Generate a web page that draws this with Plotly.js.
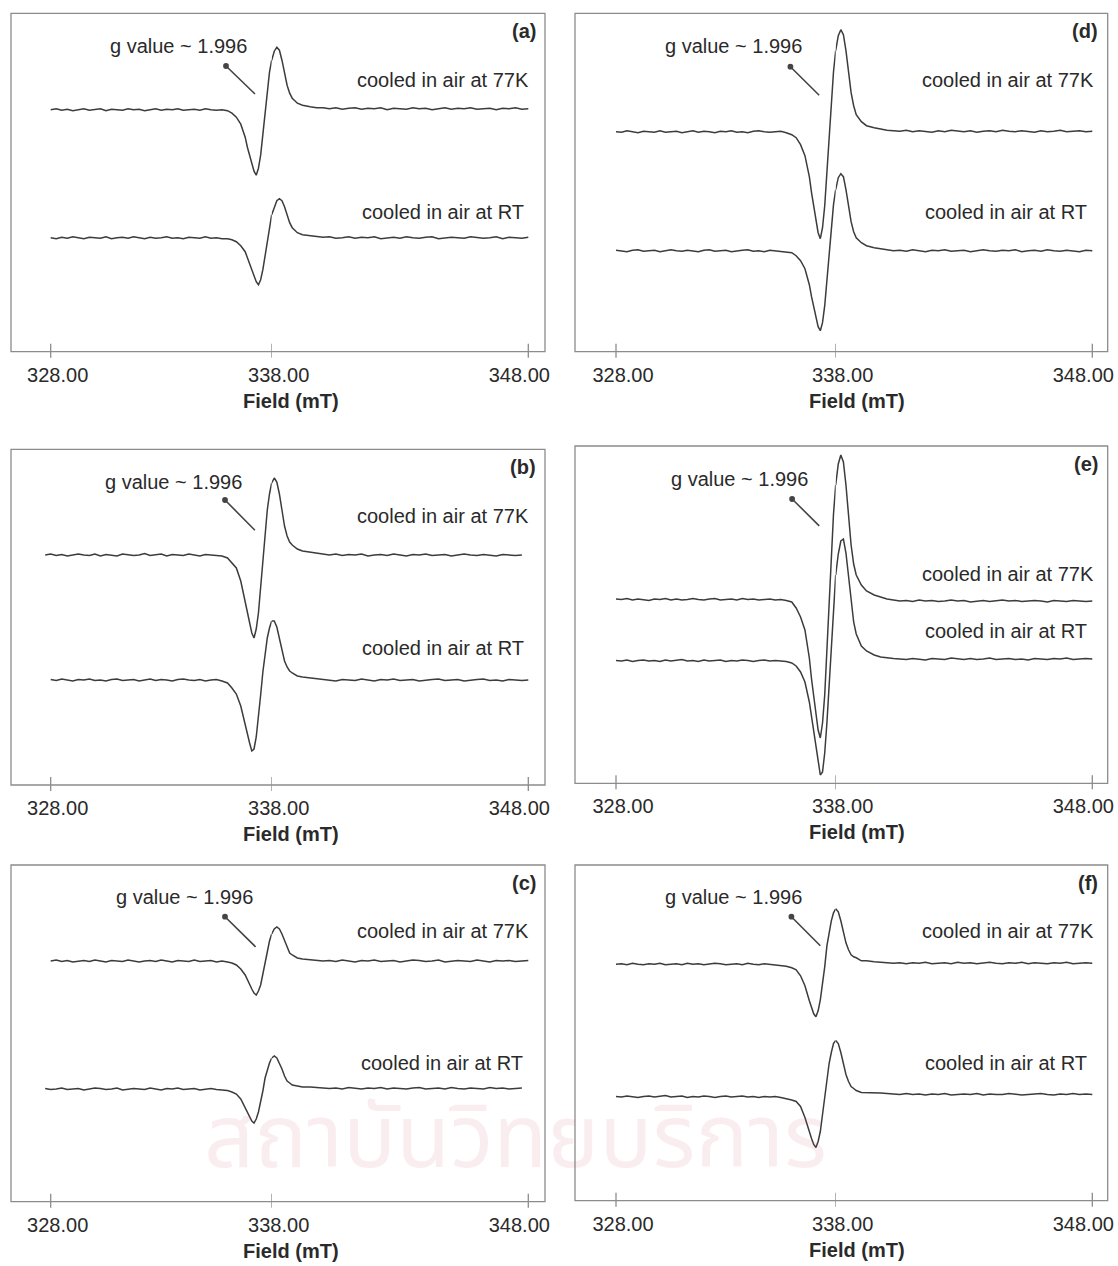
<!DOCTYPE html>
<html>
<head>
<meta charset="utf-8">
<script src="https://cdn.plot.ly/plotly-3.0.1.min.js"></script>
<style>
  html, body { margin: 0; padding: 0; background: #ffffff; }
  #chart { width: 1118px; height: 1266px; }
</style>
</head>
<body>
<div id="chart"></div>
<script>
// Magnetic field sampling points (mT): coarse on the baselines, fine across the resonance
const field = [
  327.75, 328, 328.25, 328.5, 328.75, 329, 329.25, 329.5, 329.75, 330, 330.25, 330.5, 330.75, 331, 331.25, 331.5, 331.75,
  332, 332.25, 332.5, 332.75, 333, 333.25, 333.5, 333.75, 334, 334.25, 334.5, 334.75, 335, 335.25, 335.5, 335.75, 336,
  336.2, 336.4, 336.6, 336.8, 336.9, 337, 337.1, 337.2, 337.3, 337.4, 337.5, 337.6, 337.7, 337.8, 337.9, 338,
  338.1, 338.2, 338.3, 338.4, 338.5, 338.6, 338.7, 338.8, 339, 339.2,
  339.5, 339.75, 340, 340.25, 340.5, 340.75, 341, 341.25, 341.5, 341.75, 342, 342.25, 342.5, 342.75, 343, 343.25, 343.5,
  343.75, 344, 344.25, 344.5, 344.75, 345, 345.25, 345.5, 345.75, 346, 346.25, 346.5, 346.75, 347, 347.25, 347.5, 347.75, 348
];

// EPR first-derivative signals (a.u., relative to each spectrum's baseline)
const a77 = [null, -0.5, 0.5, -1, 0, -1.5, -0.5, 0.5, -1, -0.5, 0.5, -1.5, 0, -0.5, -1, 0.5, -0.5, 0, -1.5, -0.5, 0.5, -1, 0, -0.5, 0.5, -1, -0.5, 0, -1, 0.5, -0.5, -1, -0.5, -1.5,
  -4, -8, -15, -28, -38, -47, -54, -62, -66, -59, -46, -24, -3, 20, 37, 49, 58, 62, 59, 49, 37, 24, 16, 11, 6, 4,
  2.5, 1.5, 1.5, 0.5, 1.5, 0, 1, 1.5, 0, 1, 0.5, 1.5, -0.5, 1, 0.5, 0, 1.5, 0.5, 1, -0.5, 0.5, 1.5, 0, 1, 0.5, 1.5, 0, 0.5, 1, -0.5, 1, 0.5, 1.5, 0, 0.5];
const aRT = [null, 0, -1, 0.5, -0.5, 1, 0, -1, 0.5, 0, -0.5, 1, -1, 0, 0.5, -0.5, 1, 0, -1, 0.5, -0.5, 0, 1, -0.5, 0, -1, 0.5, 0, -0.5, 1, -0.5, 0, -1, -1,
  -2, -4, -8, -14, -20, -27, -33, -38, -44, -47, -42, -32, -17, -2, 13, 23, 31, 37, 39, 37, 31, 23, 15, 10, 5, 3,
  2, 1, 0.5, 1, -0.5, 0, 1, -0.5, 0.5, 0, 1, -1, 0, 0.5, -0.5, 1, 0, -0.5, 0.5, 1, -1, 0, 0.5, 0, -0.5, 1, 0.5, -0.5, 0, 1, -1, 0.5, 0, -0.5, 0.5];

const b77 = [0, 1, -0.5, 0.5, -1, 0, 1, 0, -0.5, 1, -1, 0.5, 0, -1, 1, 0.5, -0.5, 0, 1.5, -0.5, 0, 1, -1, 0.5, 0, -0.5, 1, 0, -1, 0.5, 0, -0.5, -1, -3,
  -8, -13, -26, -48, -59, -68, -78, -83, -74, -58, -31, -4, 25, 45, 61, 72, 77, 73, 61, 45, 29, 19, 13, 10, 6, 4,
  3, 2, 1, 0, 1, -0.5, 0.5, 0, 1, -1, 0, 0.5, -0.5, 1, 0, -1, 0.5, 0, 1, -0.5, 0, 0.5, -1, 0, 1, 0, -0.5, 0.5, 0, -1, 0.5, 0, -0.5, 0, null];
const bRT = [null, 0.5, -0.5, 1, 0, -1, 0.5, 0, 1, -0.5, 0, -1, 0.5, 1, -0.5, 0, 0.5, -1, 0, 1, -0.5, 0.5, 0, -1, 0.5, 1, 0, -0.5, 0.5, -1, 0, 0.5, -1, -3,
  -8, -14, -26, -46, -55, -63, -71, -69, -57, -39, -15, 8, 28, 42, 52, 59, 59, 53, 41, 29, 19, 13, 9, 7, 4, 3,
  2, 1.5, 0.5, 0, -1, 0.5, 0, -0.5, 1, 0, -1, 0.5, 0, 1, -0.5, 0, 0.5, -1, 0, 0.5, 1, -0.5, 0, 0.5, -1, 0, 0.5, 1, -0.5, 0, -1, 0.5, 0, -0.5, 0];

const c77 = [null, 0, 1, -0.5, 0.5, -1, 0, 0.5, -0.5, 1, 0, -1, 0.5, 0, -0.5, 1, 0, -1, 0, 0.5, -0.5, 1, 0, -1, 0.5, 0, -0.5, 1, -0.5, 0, 0.5, -1, 0, -1,
  -2, -4, -8, -14, -19, -24, -28, -32, -34, -30, -24, -13, -2, 11, 20, 27, 32, 34, 32, 27, 20, 13, 8, 6, 3, 2,
  1.5, 1, 0, 0.5, -0.5, 1, 0, -1, 0.5, 0, 1, -0.5, 0, 0.5, -1, 0, 1, 0.5, -0.5, 0, 1, -1, 0, 0.5, 0, -0.5, 1, 0, -1, 0.5, 0, 0.5, -0.5, 0, 0.5];
const cRT = [0.5, -0.5, 0, 1, -0.5, 0, 0.5, -1, 0, 1, 0.5, -0.5, 0, 1, -1, 0, 0.5, 0, -0.5, 1, 0, -1, 0.5, 0, 1, -0.5, 0, 0.5, -1, 0, 0.5, -0.5, -1, -1.5,
  -3, -5, -10, -19, -24, -28, -32, -34, -30, -23, -13, -2, 11, 20, 26, 31, 33, 31, 26, 20, 13, 8, 6, 4, 3, 2,
  2, 1.5, 1, 0.5, 1, 0, 1.5, 0.5, 0, 1, 0.5, 1.5, 0, 1, 0.5, 0, 1, 1.5, 0, 0.5, 1, 0, 1.5, 0.5, 0, 1, 0.5, 0, 1.5, 0.5, 1, 0, 0.5, 1, null];

const d77 = [null, 0, -0.5, 1, 0, -1, 0.5, 0, -0.5, 1, -0.5, 0, 0.5, -1, 0, 1, -0.5, 0.5, 0, -1, 0.5, 0, 1, -0.5, 0, -1, 0.5, 1, 0, -0.5, 0, 0.5, -1, -3,
  -6, -13, -24, -45, -61, -76, -88, -101, -107, -96, -74, -40, -5, 33, 60, 81, 96, 102, 97, 81, 60, 39, 26, 17, 10, 6,
  4, 2.5, 1.5, 1, 0.5, 1.5, 0, 1, 0.5, -0.5, 1, 0, 1.5, 0.5, 0, 1, -0.5, 0.5, 1, 0, 1.5, 0.5, 0, 1, 0.5, -0.5, 1, 0, 0.5, 1.5, 0, 0.5, 1, 0, 0.5];
const dRT = [null, 0.5, 0, -1, 0.5, 1, -0.5, 0, 0.5, -1, 0, 1, 0, -0.5, 0.5, 0, -1, 0.5, 1, -0.5, 0, 0.5, -1, 0, 0.5, 1, -0.5, 0, -1, 0.5, 0, -0.5, -1, -2,
  -5, -10, -18, -34, -46, -57, -66, -76, -80, -72, -55, -30, -4, 25, 46, 61, 73, 77, 74, 61, 46, 29, 19, 13, 8, 5,
  3, 2, 1, 0, 0.5, -0.5, 1, 0, -1, 0.5, 0, 1, -0.5, 0, 0.5, -1, 0, 1, 0, -0.5, 0.5, 0, 1, -1, 0, 0.5, -0.5, 1, 0, -0.5, 0.5, 0, -1, 0.5, 0];

const e77 = [null, 1, 0.5, 1.5, 0, 1, 0.5, -0.5, 1, 0.5, 1.5, 0, 1, 0, 0.5, 1.5, 0.5, 0, 1, 1.5, 0, 0.5, 1, 0, 1.5, 0.5, 1, 0, 0.5, 1, 0, 0.5, -0.5, -2,
  -8, -17, -30, -58, -79, -98, -113, -130, -138, -123, -95, -51, -7, 46, 86, 115, 136, 145, 138, 115, 86, 55, 36, 25, 15, 9,
  5, 3, 1, 0, -1, -0.5, -1.5, 0, -1, -0.5, -1.5, -1, 0, -1, -0.5, -2, -1, -0.5, -1.5, -1, 0, -1, -0.5, -1.5, -1, -0.5, -1, -2, -0.5, -1, -1.5, -0.5, -1, -1.5, -1];
const eRT = [null, -0.5, -1, 0, -1.5, -0.5, 0, -1, -0.5, -1.5, 0, -1, -0.5, 0.5, -1, -0.5, -1.5, 0, -1, -0.5, 0, -1.5, -0.5, -1, 0, -0.5, -1.5, -0.5, 0, -1, -0.5, -1, -1.5, -3,
  -6, -12, -22, -42, -57, -74, -89, -102, -115, -112, -93, -63, -24, 17, 56, 85, 106, 119, 121, 107, 84, 58, 38, 26, 14, 9,
  5, 3, 2, 1.5, 1, 0.5, 1.5, 1, 0, 1.5, 1, 0.5, 2, 1, 0.5, 1.5, 0.5, 1, 2, 0.5, 1, 1.5, 0.5, 1, 0, 1.5, 1, 0.5, 1.5, 1, 2, 0.5, 1, 1.5, 1];

const f77 = [null, -0.5, 0, -1, 0.5, -0.5, -1, 0, -0.5, 0.5, -1, -0.5, 0, -1, 0.5, -0.5, 0, -1, -0.5, 0.5, 0, -1, -0.5, 0, -1, 0.5, -0.5, -1, 0, -0.5, -1, -1.5, -2.5, -4,
  -6, -12, -22, -37, -43, -50, -53, -47, -36, -20, -3, 18, 32, 43, 51, 55, 52, 43, 32, 21, 14, 9, 7, 6, 3, 3,
  2, 1.5, 1, 0.5, 1, 0, 1, 0.5, 1.5, 0, 0.5, 1, 0, 1.5, 0.5, 1, 0, 0.5, 1.5, 0.5, 0, 1, 0.5, 1.5, 0, 1, 0.5, 0, 1, 0.5, 1.5, 0, 0.5, 1, 0.5];
const fRT = [null, -1, -1.5, -0.5, -1, -2, -1, -0.5, -1.5, -1, 0, -1.5, -1, -0.5, -2, -1, -1.5, -0.5, -1, -2, -1, -0.5, -1.5, -1, -0.5, -1.5, -1, -2, -1, -1.5, -1, -2, -3, -4.5,
  -6, -11, -22, -37, -43, -49, -52, -46, -36, -19, -3, 18, 32, 43, 52, 55, 52, 43, 32, 21, 14, 9, 7, 5, 3, 3,
  3, 2.5, 2, 1.5, 1, 2, 1, 1.5, 0.5, 1.5, 1, 2, 0.5, 1, 1.5, 1, 2, 0.5, 1.5, 1, 1, 2, 1.5, 0.5, 1, 1.5, 2, 1, 0.5, 1.5, 1, 2, 1, 1.5, 1];

// Axis ticks and text
const tickValues = [328, 338, 348];
const tickLabels = ['328.00', '338.00', '348.00'];
const panelLabels = ['(a)', '(b)', '(c)', '(d)', '(e)', '(f)'];
const seriesLabels = ['cooled in air at 77K', 'cooled in air at RT'];
const gValueLabel = 'g value ~ 1.996';
const fieldTitle = 'Field (mT)';
const watermark = 'สถาบันวิทยบริการ';

// ---- page geometry (pixels) ----
const W = 1118, H = 1266;
const px = v => v / W;
const py = v => 1 - v / H;
const FONT = "Arial, 'Liberation Sans', Helvetica, sans-serif";
const TEXT = '#2a2a2a';
const LINE = '#3c3c3c';
const FRAME = '#8c8c8c';

// column frames and where the three field ticks sit along the bottom edge
const columns = [
  { left: 11,  t0: 50.7, t1: 271.7, t2: 528.3,  right: 545 },
  { left: 575, t0: 616,  t1: 835.7, t2: 1092.3, right: 1107.7 }
];

// each panel: frame, stacking offsets of the two spectra, text placement
const panels = [
  { col: 0, top: 13.3,  bottom: 351.7,  spectra: [a77, aRT], stack: [242.5, 114],
    g: [178.6, 45.7],  arrow: [226, 66, 256.5, 95.5],     lab: [[531, 80], [525.5, 212.3]] },
  { col: 0, top: 449.3, bottom: 785,    spectra: [b77, bRT], stack: [230, 105],
    g: [173.8, 481.7], arrow: [225, 500, 256.4, 531.7],   lab: [[531, 515.7], [525.5, 648.3]] },
  { col: 0, top: 865,   bottom: 1201.7, spectra: [c77, cRT], stack: [240.7, 112.7],
    g: [184.5, 896.7], arrow: [225, 916.7, 257.1, 948.3], lab: [[531, 931], [525, 1063.3]] },
  { col: 1, top: 13.3,  bottom: 351.7,  spectra: [d77, dRT], stack: [220, 101],
    g: [733.8, 45.7],  arrow: [790.4, 66.7, 820.7, 96.7], lab: [[1095.7, 80], [1089.3, 212.3]] },
  { col: 1, top: 446,   bottom: 783.3,  spectra: [e77, eRT], stack: [183.3, 123.3],
    g: [739, 479.3],   arrow: [792.1, 499, 820.7, 527.3], lab: [[1095.7, 574], [1089.3, 631]] },
  { col: 1, top: 865,   bottom: 1200.7, spectra: [f77, fRT], stack: [236.9, 105.2],
    g: [733.8, 897.3], arrow: [791.4, 916.7, 821.8, 947.3], lab: [[1095.7, 931], [1089.3, 1063.3]] }
];

const sfx = n => (n === 1 ? '' : String(n));
const data = [];
const shapes = [];
const annotations = [];
const layout = {
  width: W, height: H,
  margin: { l: 0, r: 0, t: 0, b: 0 },
  paper_bgcolor: '#ffffff', plot_bgcolor: 'rgba(0,0,0,0)',
  showlegend: false,
  font: { family: FONT, color: TEXT }
};

// faint library watermark behind the figures
annotations.push({
  xref: 'paper', yref: 'paper', x: px(515), y: py(1140), xanchor: 'center', yanchor: 'middle',
  text: watermark, showarrow: false,
  font: { family: "'Noto Sans Thai', 'Noto Sans', sans-serif", size: 88, color: 'rgba(205,95,115,0.11)' }
});

const brk = tickValues[1];   // the field axis is drawn as two linear pieces that meet at 338 mT

panels.forEach((p, i) => {
  const c = columns[p.col];
  const nL = 2 * i + 1, nR = 2 * i + 2, nY = i + 1;
  const sL = (c.t1 - c.t0) / (tickValues[1] - tickValues[0]);
  const sR = (c.t2 - c.t1) / (tickValues[2] - tickValues[1]);
  const rangeL = [tickValues[0] - (c.t0 - c.left) / sL, brk];
  const rangeR = [brk, tickValues[2] + (c.right - c.t2) / sR];

  const tickAxis = (range, shift) => {
    const vals = [], txt = [];
    tickValues.forEach((v, k) => {
      if (v >= range[0] - 1e-9 && v <= range[1] + 1e-9 && !(range[0] === brk && v === brk)) {
        vals.push(v); txt.push(tickLabels[k]);
      }
    });
    return {
      tickmode: 'array', tickvals: vals, ticktext: txt, ticks: '',
      showgrid: false, zeroline: false, showline: false,
      tickfont: { family: FONT, size: 20, color: TEXT },
      ticklabelshift: shift, ticklabelstandoff: 9, ticklabeloverflow: 'allow',
      fixedrange: true
    };
  };

  layout['xaxis' + sfx(nL)] = Object.assign(tickAxis(rangeL, 7), {
    domain: [px(c.left), px(c.t1)], range: rangeL, anchor: 'y' + sfx(nY)
  });
  layout['xaxis' + sfx(nR)] = Object.assign(tickAxis(rangeR, -9), {
    domain: [px(c.t1), px(c.right)], range: rangeR, anchor: 'y' + sfx(nY)
  });
  layout['yaxis' + sfx(nY)] = {
    domain: [py(p.bottom), py(p.top)], range: [0, p.bottom - p.top],
    visible: false, fixedrange: true, anchor: 'x' + sfx(nL)
  };

  // spectra, each split across the two field pieces
  p.spectra.forEach((sig, k) => {
    const yv = sig.map(v => (v === null ? null : v + p.stack[k]));
    const left = { x: [], y: [] }, right = { x: [], y: [] };
    field.forEach((f, j) => {
      if (f <= brk) { left.x.push(f); left.y.push(yv[j]); }
      if (f >= brk) { right.x.push(f); right.y.push(yv[j]); }
    });
    [[left, nL], [right, nR]].forEach(([part, n]) => {
      data.push({
        type: 'scatter', mode: 'lines', x: part.x, y: part.y,
        xaxis: 'x' + sfx(n), yaxis: 'y' + sfx(nY),
        line: { color: LINE, width: 1.5 }, hoverinfo: 'skip', connectgaps: false
      });
    });
  });

  // panel frame
  shapes.push({
    type: 'rect', xref: 'paper', yref: 'paper',
    x0: px(c.left), x1: px(c.right), y0: py(p.bottom), y1: py(p.top),
    line: { color: FRAME, width: 1.3 }, fillcolor: 'rgba(0,0,0,0)', layer: 'above'
  });
  // tick marks crossing the bottom edge
  tickValues.forEach(v => {
    const n = v <= brk ? nL : nR;
    shapes.push({
      type: 'line', xref: 'x' + sfx(n), yref: 'paper',
      x0: v, x1: v, y0: py(p.bottom + 6), y1: py(p.bottom - 8),
      line: { color: FRAME, width: 1.3 }
    });
  });

  // texts
  annotations.push({
    xref: 'paper', yref: 'paper', x: px(c.right - 7.5), y: py(p.top + 18),
    xanchor: 'right', yanchor: 'middle', showarrow: false,
    text: '<b>' + panelLabels[i] + '</b>', font: { family: FONT, size: 20, color: TEXT }
  });
  annotations.push({
    xref: 'paper', yref: 'paper', x: px(p.g[0]), y: py(p.g[1]),
    xanchor: 'center', yanchor: 'middle', showarrow: false,
    text: gValueLabel, font: { family: FONT, size: 20, color: TEXT }
  });
  annotations.push({
    xref: 'paper', yref: 'paper', x: px(p.arrow[0]), y: py(p.arrow[1]),
    ax: p.arrow[2] - p.arrow[0], ay: p.arrow[3] - p.arrow[1],
    text: '', showarrow: true, arrowhead: 6, arrowsize: 0.9, arrowwidth: 1.6,
    arrowcolor: '#444444', standoff: 0, startstandoff: 0
  });
  p.lab.forEach((pos, k) => {
    annotations.push({
      xref: 'paper', yref: 'paper', x: px(pos[0]), y: py(pos[1]),
      xanchor: 'right', yanchor: 'middle', showarrow: false,
      text: seriesLabels[k], font: { family: FONT, size: 20, color: TEXT }
    });
  });
  annotations.push({
    xref: 'paper', yref: 'paper', x: px(p.col === 0 ? 291 : 856.5), y: py(p.bottom + 49),
    xanchor: 'center', yanchor: 'middle', showarrow: false,
    text: '<b>' + fieldTitle + '</b>', font: { family: FONT, size: 20, color: TEXT }
  });
});

layout.shapes = shapes;
layout.annotations = annotations;

Plotly.newPlot('chart', data, layout, { staticPlot: true, displayModeBar: false });
</script>
</body>
</html>
